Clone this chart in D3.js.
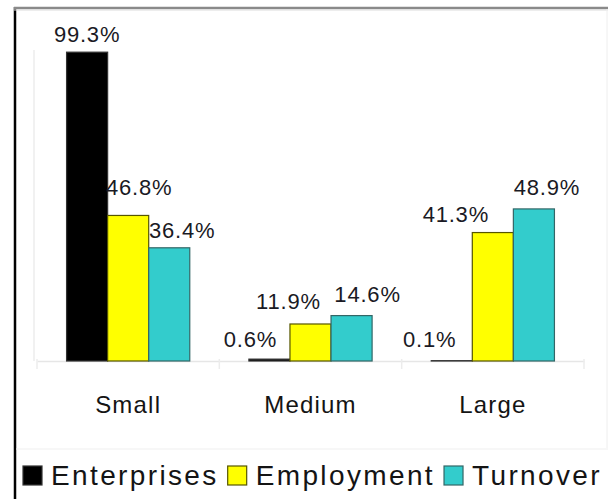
<!DOCTYPE html>
<html>
<head>
<meta charset="utf-8">
<script src="https://cdn.jsdelivr.net/npm/d3@7"></script>
<style>
  html, body { margin: 0; padding: 0; background: #fff; }
  svg { display: block; font-family: "Liberation Sans", Arial, Helvetica, sans-serif; }
</style>
</head>
<body>
<svg id="chart" width="608" height="499"></svg>
<script>
// ---- data ----
const categories = ["Small", "Medium", "Large"];
const seriesNames = ["Enterprises", "Employment", "Turnover"];
const enterprises = [99.3, 0.6, 0.1];
const employment = [46.8, 11.9, 41.3];
const turnover = [36.4, 14.6, 48.9];
const valueLabels = [
  ["99.3%", "0.6%", "0.1%"],
  ["46.8%", "11.9%", "41.3%"],
  ["36.4%", "14.6%", "48.9%"]
];

// ---- styling / layout ----
const seriesValues = [enterprises, employment, turnover];
const fills = ["#000000", "#ffff00", "#33cccc"];
const strokes = ["#333333", "#555500", "#336666"];
// label nudges (px, relative to bar centre / bar top) mimicking the original's label placement
const labelNudge = [
  [[0, -10], [-19, -12], [-22, -14]],
  [[11, -20], [-22, -15], [-37, -11]],
  [[13, -10], [16, -14], [13, -14]]
];

const svg = d3.select("#chart");
const W = 608, H = 499;

// frame
svg.append("line").attr("x1", 15).attr("x2", 15).attr("y1", 7).attr("y2", H)
  .attr("stroke", "#000").attr("stroke-width", 2.5);
svg.append("line").attr("x1", 14).attr("x2", W).attr("y1", 8).attr("y2", 8)
  .attr("stroke", "#8a8a8a").attr("stroke-width", 2.5);
svg.append("line").attr("x1", 14).attr("x2", W).attr("y1", 10).attr("y2", 10)
  .attr("stroke", "#dcdcdc").attr("stroke-width", 1);
svg.append("line").attr("x1", 607).attr("x2", 607).attr("y1", 9).attr("y2", 448)
  .attr("stroke", "#eeeeee").attr("stroke-width", 1);
svg.append("line").attr("x1", 16).attr("x2", W).attr("y1", 449).attr("y2", 449)
  .attr("stroke", "#efefef").attr("stroke-width", 1);

const plotLeft = 37, plotRight = 584, plotTop = 50, plotBottom = 361;

const x0 = d3.scaleBand().domain(categories).range([plotLeft, plotRight]).paddingInner(0).paddingOuter(0);
const x1 = d3.scaleBand().domain(seriesNames).range([0, x0.bandwidth()]).paddingOuter(0.72).paddingInner(0);
const y = d3.scaleLinear().domain([0, 100]).range([plotBottom, plotTop]);

// faint y axis line
svg.append("line").attr("x1", plotLeft - 3).attr("x2", plotLeft - 3)
  .attr("y1", plotTop).attr("y2", plotBottom)
  .attr("stroke", "#ececec").attr("stroke-width", 1.5);

// x axis (light)
const xAxis = d3.axisBottom(x0).tickSize(0).tickFormat("");
const gx = svg.append("g").attr("transform", `translate(0,${plotBottom})`).call(xAxis);
gx.select(".domain").attr("stroke", "#e6e6e6").attr("stroke-width", 1.5);
// category boundary ticks
const bounds = categories.map(c => x0(c)).concat([x0(categories[categories.length - 1]) + x0.bandwidth()]);
svg.selectAll(".btick").data(bounds).enter().append("line")
  .attr("x1", d => d).attr("x2", d => d)
  .attr("y1", plotBottom - 2).attr("y2", plotBottom + 8)
  .attr("stroke", "#ececec").attr("stroke-width", 1.5);

// category labels
svg.selectAll(".cat").data(categories).enter().append("text")
  .attr("x", d => x0(d) + x0.bandwidth() / 2)
  .attr("y", plotBottom + 52)
  .attr("text-anchor", "middle")
  .attr("font-size", 24)
  .attr("letter-spacing", 1.2)
  .attr("fill", "#141414")
  .text(d => d);

// bars
const groups = svg.selectAll(".grp").data(categories).enter().append("g")
  .attr("transform", d => `translate(${x0(d)},0)`);

seriesNames.forEach((s, si) => {
  groups.append("rect")
    .attr("x", x1(s))
    .attr("width", x1.bandwidth())
    .attr("y", (c, ci) => y(seriesValues[si][ci]))
    .attr("height", (c, ci) => plotBottom - y(seriesValues[si][ci]))
    .attr("fill", fills[si])
    .attr("stroke", strokes[si])
    .attr("stroke-width", 1.2);
});

// value labels
seriesNames.forEach((s, si) => {
  groups.append("text")
    .attr("x", (c, ci) => x1(s) + x1.bandwidth() / 2 + labelNudge[si][ci][0])
    .attr("y", (c, ci) => y(seriesValues[si][ci]) + labelNudge[si][ci][1])
    .attr("text-anchor", "middle")
    .attr("font-size", 22)
    .attr("letter-spacing", 0.8)
    .attr("fill", "#1a1a24")
    .text((c, ci) => valueLabels[si][ci]);
});

// legend: laid out to span the width of the frame like the original
const legend = svg.append("g").attr("transform", "translate(0,485)");
const legendFont = 28, sq = 19, sqGap = 9, itemGap = 9, legendStart = 23, legendEnd = 602;
const texts = seriesNames.map(s => legend.append("text").attr("y", 0)
  .attr("font-size", legendFont).attr("fill", "#141414").text(s));
const natural = d3.sum(texts, t => t.node().getComputedTextLength());
const nChars = d3.sum(seriesNames, s => s.length);
const fixed = legendStart + seriesNames.length * (sq + sqGap) + (seriesNames.length - 1) * itemGap;
const ls = Math.max(0, (legendEnd - fixed - natural) / nChars);
let lx = legendStart;
seriesNames.forEach((s, si) => {
  legend.append("rect").attr("x", lx).attr("y", -19).attr("width", sq).attr("height", sq)
    .attr("fill", fills[si]).attr("stroke", strokes[si]).attr("stroke-width", 1.2);
  lx += sq + sqGap;
  texts[si].attr("x", lx).attr("letter-spacing", ls);
  lx += texts[si].node().getComputedTextLength() + itemGap;
});
</script>
</body>
</html>
